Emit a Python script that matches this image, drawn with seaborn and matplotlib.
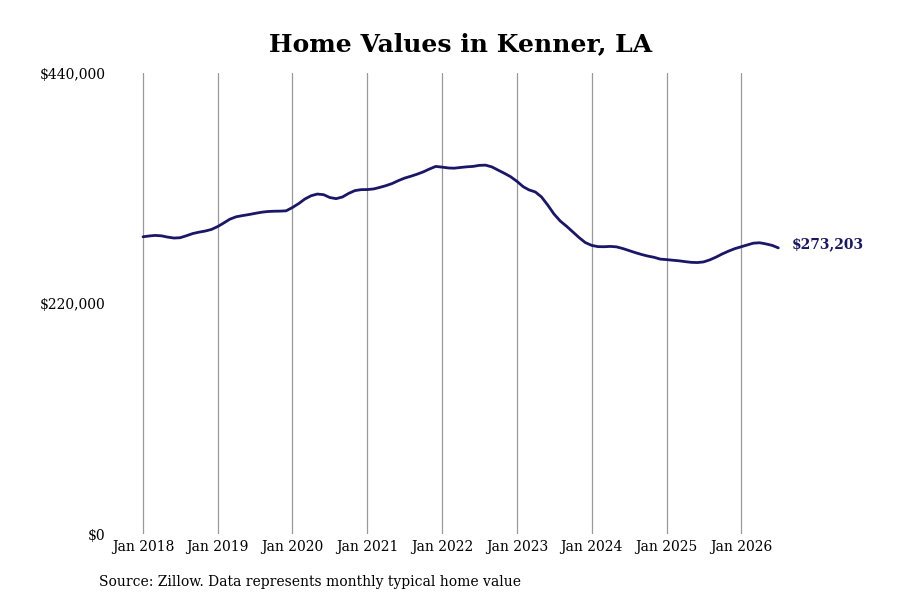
import pandas as pd
import numpy as np
import matplotlib
matplotlib.use('Agg')
import matplotlib.pyplot as plt
import seaborn as sns

# Valores mensais (Jan 2018 - Jul 2026)
valores_2018 = [283800, 284600, 285100, 284700, 283500, 282600, 282900, 284800, 286900, 288200, 289300, 290800]
valores_2019 = [293600, 297200, 300600, 302900, 304000, 305000, 306100, 307200, 307900, 308200, 308300, 308600]
valores_2020 = [311800, 315600, 319800, 323000, 324600, 324000, 321300, 320200, 321800, 325200, 327900, 328800]
valores_2021 = [328900, 329500, 330900, 332600, 334600, 337400, 339800, 341600, 343600, 345800, 348600, 351000]
valores_2022 = [350300, 349500, 349300, 350000, 350600, 351000, 352000, 352200, 350500, 347500, 344400, 341200]
valores_2023 = [336800, 331600, 328600, 326600, 321900, 314000, 305600, 298800, 293800, 288500, 283000, 278300]
valores_2024 = [275600, 274400, 274300, 274600, 274200, 272600, 270700, 268700, 266900, 265400, 264200, 262500]
valores_2025 = [262000, 261400, 260900, 260100, 259400, 259200, 259800, 261800, 264500, 267500, 270200, 272500]
valores_2026 = [274300, 276100, 277700, 278100, 277000, 275600, 273203]

valores = (valores_2018 + valores_2019 + valores_2020 + valores_2021 + valores_2022
           + valores_2023 + valores_2024 + valores_2025 + valores_2026)
datas = pd.date_range('2018-01-01', periods=len(valores), freq='MS')
dados = pd.DataFrame({'Data': datas, 'Valor': valores})

anos = list(range(2018, 2027))
y_ticks = [0, 220000, 440000]
y_labels = ['$0', '$220,000', '$440,000']
rotulo_final = '$273,203'

cor = '#1a1668'

sns.set_style('white')
plt.rcParams['font.family'] = ['DejaVu Serif']
plt.rcParams['text.color'] = 'black'
plt.rcParams['xtick.color'] = 'black'
plt.rcParams['ytick.color'] = 'black'

fig = plt.figure(figsize=(9, 6), dpi=100)
ax = fig.add_axes([0.128, 0.11, 0.75, 0.768])

sns.lineplot(data=dados, x='Data', y='Valor', color=cor, linewidth=2.0, ax=ax)

ax.set_xlim(pd.Timestamp('2017-08-18'), pd.Timestamp('2026-08-28'))
ax.set_ylim(0, 440000)

ax.set_xticks([pd.Timestamp(f'{a}-01-01') for a in anos])
ax.set_xticklabels([f'Jan {a}' for a in anos], fontsize=10)
ax.set_yticks(y_ticks)
ax.set_yticklabels(y_labels, fontsize=10)
ax.tick_params(axis='both', length=0)
ax.tick_params(axis='y', pad=7)
ax.tick_params(axis='x', pad=4)

ax.grid(axis='x', color='#999999', linewidth=0.9)
ax.grid(axis='y', visible=False)
for s in ax.spines.values():
    s.set_visible(False)

ax.set_xlabel('')
ax.set_ylabel('')

ax.annotate(rotulo_final, xy=(dados['Data'].iloc[-1], dados['Valor'].iloc[-1]),
            xytext=(10, 3), textcoords='offset points', va='center', ha='left',
            fontsize=10, fontweight='bold', color=cor)

fig.text(0.512, 0.927, 'Home Values in Kenner, LA', ha='center', va='center',
         fontsize=18, fontweight='bold', color='black')
fig.text(0.11, 0.03, 'Source: Zillow. Data represents monthly typical home value',
         ha='left', va='center', fontsize=10, color='black')

plt.savefig('out.png', dpi=100)
